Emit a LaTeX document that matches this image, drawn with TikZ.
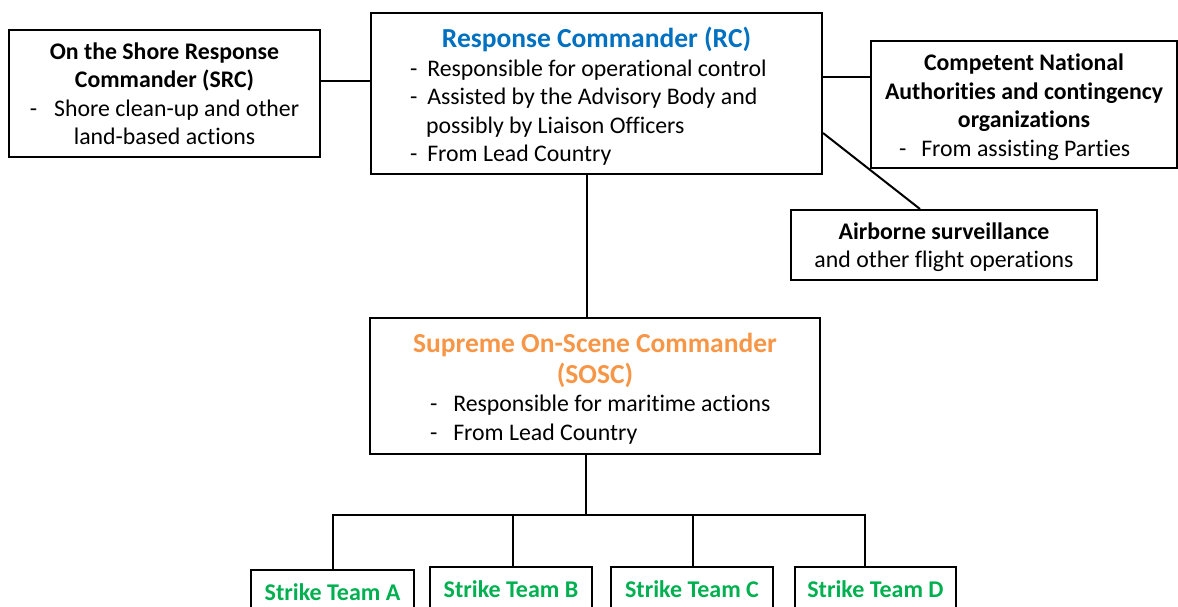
\documentclass[tikz,border=0pt]{standalone}
\usepackage{fontspec}
\setmainfont{Carlito}[Ligatures=CommonOff]
\definecolor{rcblue}{HTML}{0070C0}
\definecolor{soscorange}{HTML}{F79646}
\definecolor{teamgreen}{HTML}{00B050}
\newcommand{\dashitem}[3]{\makebox[#1][l]{-\hspace{#2}#3}}
\newcommand{\headtxt}[2]{\textcolor{#1}{\fontsize{27.5}{30}\selectfont\bfseries #2}}
\tikzset{
  orgbox/.style={
    draw, rectangle, line width=2pt, inner sep=0pt, align=center,
    font=\fontsize{23.8}{28.5}\selectfont
  },
  teambox/.style={
    draw, rectangle, line width=2pt, minimum height=44pt, inner sep=0pt,
    font=\fontsize{24}{28.5}\selectfont\bfseries, text=teamgreen
  },
  link/.style={line width=2pt}
}

\begin{document}
\begin{tikzpicture}[x=1pt, y=-1pt]
  \clip (0,0) rectangle (1178,606);
  % top row
  \node[orgbox, minimum width=311pt, minimum height=127pt] (src) at (164.5,93.5)
    {\textbf{On the Shore Response}\\ \textbf{Commander (SRC)}\\
     -\hspace{17pt}Shore clean-up and other\\ land-based actions};
  \node[orgbox, minimum width=451pt, minimum height=161pt] (rc) at (596.5,93.5)
    {\rule{0pt}{26pt}\headtxt{rcblue}{Response Commander (RC)}\\
     \dashitem{373pt}{10pt}{Responsible for operational control}\\
     \dashitem{373pt}{10pt}{Assisted by the Advisory Body and}\\
     \makebox[373pt][l]{\hspace{16pt}possibly by Liaison Officers}\\
     \dashitem{373pt}{10pt}{From Lead Country}};
  \node[orgbox, minimum width=306pt, minimum height=127pt] (cna) at (1024,104.5)
    {\rule{0pt}{22pt}\textbf{Competent National}\\ \textbf{Authorities and contingency}\\
     \textbf{organizations}\\ \dashitem{250pt}{15pt}{From assisting Parties}};
  \node[orgbox, minimum width=306pt, minimum height=70pt] (air) at (944,245)
    {\rule{0pt}{21pt}\textbf{Airborne surveillance}\\ and other flight operations};

  % on-scene level
  \node[orgbox, minimum width=450pt, minimum height=136pt] (sosc) at (595,386)
    {\rule{0pt}{25pt}\headtxt{soscorange}{Supreme On-Scene Commander}\\[2pt]
     \headtxt{soscorange}{(SOSC)}\\
     \dashitem{330pt}{16pt}{Responsible for maritime actions}\\
     \dashitem{330pt}{16pt}{From Lead Country}};

  % strike teams
  \node[teambox, minimum width=163pt] (teamA) at (332.5,592) {Strike Team A};
  \node[teambox, minimum width=162pt] (teamB) at (511,589) {Strike Team B};
  \node[teambox, minimum width=162pt] (teamC) at (692,589) {Strike Team C};
  \node[teambox, minimum width=161pt] (teamD) at (875.5,589) {Strike Team D};

  % links
  \coordinate (bus) at (586,515);
  \draw[link] ([yshift=12.5pt]src.east) -- ([yshift=12.5pt]src.east -| rc.west);
  \draw[link] ([yshift=27.5pt]cna.west) -- ([yshift=27.5pt]cna.west -| rc.east);
  \draw[link] ([yshift=-39.5pt]rc.east) -- ([xshift=-24pt]air.north);
  \draw[link] ([xshift=-9.5pt]rc.south) -- ([xshift=-9.5pt]rc.south |- sosc.north);
  \draw[link] ([xshift=-9pt]sosc.south) -- (bus);
  \foreach \t/\dx in {teamA/0, teamB/2, teamC/1, teamD/-10.5}
    \draw[link] (bus) -| ([xshift=\dx pt]\t.north);
\end{tikzpicture}
\end{document}
